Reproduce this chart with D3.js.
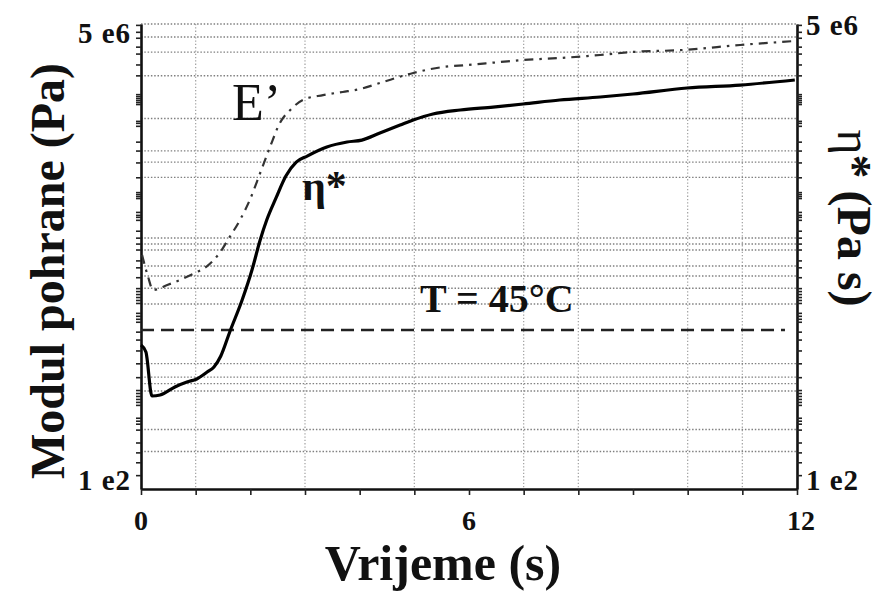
<!DOCTYPE html>
<html><head><meta charset="utf-8">
<script src="https://cdn.jsdelivr.net/npm/d3@7/dist/d3.min.js"></script>
<style>body{margin:0;background:#fff}svg{display:block}</style>
</head><body>
<svg id="c" width="881" height="592"></svg>
<script>
// ---- data ----
const etaTime  = [0, 0.09, 0.2, 0.35, 0.62, 0.84, 1.02, 1.21, 1.335, 1.46, 1.63, 1.85, 2.03, 2.18, 2.30, 2.47, 2.65, 2.84, 3.04, 3.40, 3.77, 4.04, 4.37, 4.74, 4.98, 5.34, 5.84, 6.44, 6.99, 7.66, 8.40, 9.00, 9.99, 10.96, 11.96];
const etaValue = [2850, 2420, 871, 891, 1075, 1206, 1294, 1520, 1710, 2208, 3953, 8130, 16330, 32800, 52200, 87300, 145500, 201000, 231500, 285600, 320700, 335700, 395500, 476000, 535500, 615800, 675700, 724000, 777500, 853600, 915000, 981000, 1127000, 1208000, 1358000];
const eTime  = [0.02, 0.13, 0.22, 0.48, 0.71, 0.99, 1.21, 1.45, 1.61, 1.81, 1.99, 2.18, 2.36, 2.54, 2.73, 2.96, 3.33, 3.69, 4.01, 4.37, 4.98, 5.52, 5.96, 6.57, 6.99, 7.66, 8.40, 9.00, 9.91, 10.96, 11.96];
const eValue = [23200, 13870, 10260, 11510, 12940, 15240, 17910, 24820, 34360, 52200, 83200, 156000, 285600, 499000, 676000, 853600, 957000, 1028000, 1102000, 1267000, 1600000, 1837000, 1925000, 2064000, 2163000, 2265000, 2431000, 2608000, 2731000, 3068000, 3365000];
const tempTime  = [0, 11.78];
const tempValue = [4040, 4040];
const xTickValues  = [0,1,2,3,4,5,6,7,8,9,10,11,12];
const xLabelValues = [0, 6, 12];
const xGridValues  = [1, 3, 5, 7, 8, 10, 11];
const yGridValues  = [5000000, 3700000, 2600000, 1500000, 555000, 261000, 201000, 141000, 34400, 29900, 26000, 17900, 14200, 10700, 7400, 1850, 1350, 1160, 977, 399, 239];
const yTickExponents = [6.69,6.62,6.56,6.47,6.40,6.29,6.18,5.99,5.97,5.95,5.93,5.91,5.89,5.72,5.70,5.67,5.51,5.42,5.30,5.15,5.00,4.98,4.96,4.94,4.80,4.77,4.75,4.72,4.61,4.54,4.48,4.42,4.31,4.24,4.14,4.03,4.00,3.97,3.94,3.91,3.88,3.78,3.75,3.72,3.69,3.59,3.51,3.40,3.27,3.13,3.00,2.97,2.94,2.91,2.88,2.85,2.72,2.69,2.66,2.60,2.47,2.37,2.27,2.14];
const yLabelValues = [5000000, 100];
const yLabelTexts  = ["5 e6", "1 e2"];

// ---- chart ----
const svg = d3.select("#c");
const m = {left: 141, right: 797, top: 24, bottom: 489};
const x = d3.scaleLinear().domain([0, 12]).range([m.left, m.right]);
const y = d3.scaleLog().domain([100, 5000000]).range([m.bottom, m.top]);
const serif = "'Liberation Serif','Times New Roman',serif";

// grid
svg.append("g").selectAll("line").data(xGridValues).join("line")
  .attr("x1", d => x(d)).attr("x2", d => x(d)).attr("y1", m.top).attr("y2", m.bottom)
  .attr("stroke", "#a0a0a0").attr("stroke-width", 1.2).attr("stroke-dasharray", "1.3,2");
svg.append("g").selectAll("line").data(yGridValues).join("line")
  .attr("x1", m.left).attr("x2", m.right).attr("y1", d => y(d)).attr("y2", d => y(d))
  .attr("stroke", "#808080").attr("stroke-width", 1.4).attr("stroke-dasharray", "1.5,1.8");

// axes
const yTicks = yTickExponents.map(e => Math.pow(10, e));
const axL = svg.append("g").attr("transform", `translate(${m.left},0)`)
  .call(d3.axisLeft(y).tickValues(yTicks).tickSize(5).tickSizeOuter(0).tickFormat(""));
const axR = svg.append("g").attr("transform", `translate(${m.right},0)`)
  .call(d3.axisRight(y).tickValues(yTicks).tickSize(5).tickSizeOuter(0).tickFormat(""));
const axB = svg.append("g").attr("transform", `translate(0,${m.bottom})`)
  .call(d3.axisBottom(x).tickValues(xTickValues).tickSize(6).tickSizeOuter(0).tickFormat(""));
[axL, axR, axB].forEach(g => {
  g.select(".domain").attr("stroke", "#111").attr("stroke-width", 2.6);
  g.selectAll(".tick line").attr("stroke", "#222").attr("stroke-width", 1.6);
});

// temperature line
const line = d3.line().x(d => x(d[0])).y(d => y(d[1]));
svg.append("path").datum(d3.zip(tempTime, tempValue)).attr("d", line)
  .attr("fill", "none").attr("stroke", "#222").attr("stroke-width", 2.6).attr("stroke-dasharray", "13,7");

// curves
const curve = d3.line().x(d => x(d[0])).y(d => y(d[1])).curve(d3.curveMonotoneX);
svg.append("path").datum(d3.zip(eTime, eValue)).attr("d", curve)
  .attr("fill", "none").attr("stroke", "#333").attr("stroke-width", 2.2).attr("stroke-dasharray", "9,6,2.5,6");
svg.append("path").datum(d3.zip(etaTime, etaValue)).attr("d", curve)
  .attr("fill", "none").attr("stroke", "#000").attr("stroke-width", 3.2).attr("stroke-linejoin", "round");

// tick labels
svg.append("g").selectAll("text").data(xLabelValues).join("text")
  .attr("x", d => x(d) + (d === 12 ? 4 : 0)).attr("y", 530)
  .attr("text-anchor", "middle").attr("font-family", serif).attr("font-weight", "bold")
  .attr("font-size", 28).attr("fill", "#111").text(d => String(d));
const yLab = yLabelValues.map((v, i) => ({v, t: yLabelTexts[i], dy: i === 0 ? 19 : 1}));
svg.append("g").selectAll("text").data(yLab).join("text")
  .attr("x", 131).attr("y", d => y(d.v) + d.dy).attr("text-anchor", "end")
  .attr("font-family", serif).attr("font-weight", "bold").attr("font-size", 29)
  .attr("letter-spacing", 1).attr("fill", "#111").text(d => d.t);
svg.append("g").selectAll("text").data(yLab).join("text")
  .attr("x", 806).attr("y", d => y(d.v) + (d.v === 100 ? 1 : 11)).attr("text-anchor", "start")
  .attr("font-family", serif).attr("font-weight", "bold").attr("font-size", 29)
  .attr("letter-spacing", 1).attr("fill", "#111").text(d => d.t);

// titles
svg.append("text").attr("x", 443).attr("y", 580).attr("text-anchor", "middle")
  .attr("font-family", serif).attr("font-weight", "bold").attr("font-size", 50)
  .attr("fill", "#111").text("Vrijeme (s)");
svg.append("text").attr("transform", "translate(64,271) rotate(-90)").attr("text-anchor", "middle")
  .attr("font-family", serif).attr("font-weight", "bold").attr("font-size", 48)
  .attr("fill", "#111").text("Modul pohrane (Pa)");
const rt = svg.append("text").attr("transform", "translate(838,218) rotate(90)").attr("text-anchor", "middle")
  .attr("font-family", serif).attr("font-size", 48).attr("fill", "#111");
rt.append("tspan").text("η");
rt.append("tspan").attr("font-weight", "bold").text("* (Pa s)");

// in-plot labels
svg.append("text").attr("x", 232).attr("y", 120).attr("font-family", serif)
  .attr("font-size", 52).attr("fill", "#111").text("E’");
svg.append("text").attr("x", 302).attr("y", 200).attr("font-family", serif).attr("font-weight", "bold")
  .attr("font-size", 42).attr("fill", "#111").text("η*");
svg.append("text").attr("x", 420).attr("y", 312).attr("font-family", serif).attr("font-weight", "bold")
  .attr("font-size", 40).attr("fill", "#111").text("T = 45°C");
</script>
</body></html>
